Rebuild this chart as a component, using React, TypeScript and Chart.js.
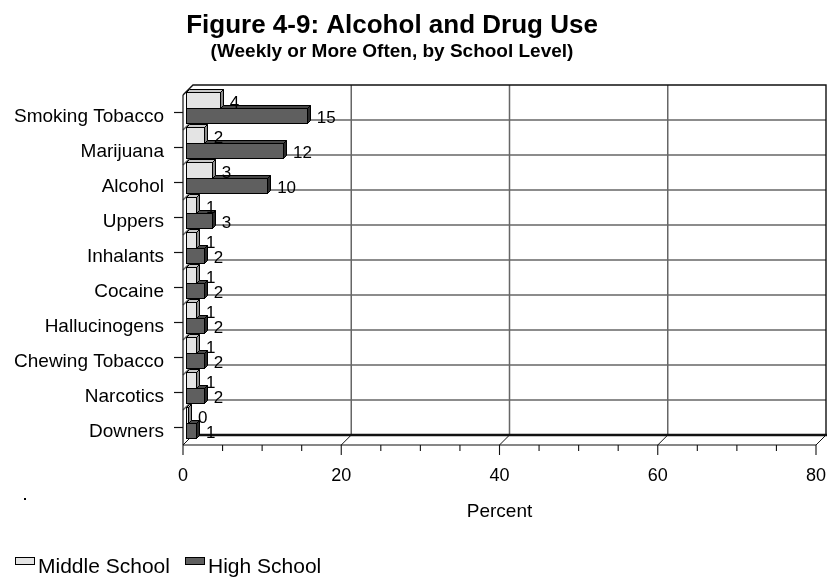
import React, { useEffect, useRef } from "react";
import { Chart, registerables } from "chart.js";

Chart.register(...registerables);

const categories = [
  "Smoking Tobacco",
  "Marijuana",
  "Alcohol",
  "Uppers",
  "Inhalants",
  "Cocaine",
  "Hallucinogens",
  "Chewing Tobacco",
  "Narcotics",
  "Downers",
];
const middleSchool = [4, 2, 3, 1, 1, 1, 1, 1, 1, 0];
const highSchool = [15, 12, 10, 3, 2, 2, 2, 2, 2, 1];
const xTicks = [0, 20, 40, 60, 80];
const seriesNames = ["Middle School", "High School"];
const titleText = "Figure 4-9: Alcohol and Drug Use";
const subtitleText = "(Weekly or More Often, by School Level)";
const axisTitle = "Percent";

const FONT = '"Liberation Sans", Arial, Helvetica, sans-serif';
const WALL = 5; // half of the 3-D wall depth (front/back offset from the bar plane)
const BAR_DEPTH = 3;

const seriesStyle = [
  { front: "#e4e4e4", top: "#c8c8c8", side: "#8c8c8c" },
  { front: "#5f5f5f", top: "#474747", side: "#2a2a2a" },
];

const wallPlugin = {
  id: "wall3d",
  beforeDatasetsDraw(chart: any) {
    const { ctx, chartArea: ca } = chart;
    const x = chart.scales.x;
    const y = chart.scales.y;
    const bx = (v: number) => x.getPixelForValue(v) + WALL;
    const fx = (v: number) => x.getPixelForValue(v) - WALL;
    const backTop = ca.top - WALL;
    const backBottom = ca.bottom - WALL;
    const frontTop = ca.top + WALL;
    const frontBottom = ca.bottom + WALL;
    const band = y.getPixelForValue(1) - y.getPixelForValue(0);
    const xmin = xTicks[0];
    const xmax = xTicks[xTicks.length - 1];

    ctx.save();
    // category gridlines on the back wall and side wall
    ctx.strokeStyle = "#666";
    ctx.lineWidth = 1.5;
    for (let i = 1; i < categories.length; i++) {
      const yb = y.getPixelForValue(i) - band / 2 - WALL;
      ctx.beginPath();
      ctx.moveTo(bx(xmin), yb);
      ctx.lineTo(bx(xmax), yb);
      ctx.stroke();
      ctx.beginPath();
      ctx.moveTo(fx(xmin), yb + 2 * WALL);
      ctx.lineTo(bx(xmin), yb);
      ctx.stroke();
    }
    // value gridlines on the back wall
    for (const v of xTicks) {
      if (v === xmin || v === xmax) continue;
      ctx.beginPath();
      ctx.moveTo(bx(v), backTop);
      ctx.lineTo(bx(v), backBottom);
      ctx.stroke();
    }
    // floor diagonals
    ctx.strokeStyle = "#111";
    ctx.lineWidth = 1;
    for (const v of xTicks) {
      ctx.beginPath();
      ctx.moveTo(fx(v), frontBottom);
      ctx.lineTo(bx(v), backBottom);
      ctx.stroke();
    }
    // back wall outline
    ctx.strokeStyle = "#111";
    ctx.lineWidth = 1.4;
    ctx.beginPath();
    ctx.moveTo(fx(xmin), frontTop);
    ctx.lineTo(bx(xmin), backTop);
    ctx.lineTo(bx(xmax), backTop);
    ctx.lineTo(bx(xmax), backBottom);
    ctx.stroke();
    ctx.lineWidth = 2.6;
    ctx.beginPath();
    ctx.moveTo(bx(xmin), backBottom);
    ctx.lineTo(bx(xmax) + 1, backBottom);
    ctx.stroke();
    // left axis
    ctx.lineWidth = 1.2;
    ctx.beginPath();
    ctx.moveTo(fx(xmin), frontTop);
    ctx.lineTo(fx(xmin), frontBottom);
    ctx.stroke();
    for (let i = 0; i < categories.length; i++) {
      const ty = y.getPixelForValue(i) + WALL;
      ctx.beginPath();
      ctx.moveTo(fx(xmin) - 9, ty);
      ctx.lineTo(fx(xmin), ty);
      ctx.stroke();
    }
    // bottom (value) axis
    ctx.lineWidth = 1.1;
    ctx.beginPath();
    ctx.moveTo(fx(xmin), frontBottom);
    ctx.lineTo(fx(xmax), frontBottom);
    ctx.stroke();
    for (let v = xmin; v <= xmax; v += 5) {
      const major = v % 20 === 0;
      ctx.beginPath();
      ctx.moveTo(fx(v), frontBottom);
      ctx.lineTo(fx(v), frontBottom + (major ? 10 : 6));
      ctx.stroke();
    }
    ctx.restore();
  },
  afterDatasetsDraw(chart: any) {
    const { ctx, chartArea: ca } = chart;
    const x = chart.scales.x;
    const y = chart.scales.y;
    const fx = (v: number) => x.getPixelForValue(v) - WALL;
    const d = BAR_DEPTH;

    ctx.save();
    ctx.lineJoin = "miter";
    // 3-D bars, drawn from the lowest to the highest so upper faces overlap correctly
    for (let i = categories.length - 1; i >= 0; i--) {
      for (let ds = chart.data.datasets.length - 1; ds >= 0; ds--) {
        const el: any = chart.getDatasetMeta(ds).data[i];
        const st = seriesStyle[ds];
        const x0 = Math.round(el.base) - 1.5;
        const x1 = Math.round(el.x) + 0.5;
        const y0 = Math.round(el.y - el.height / 2) + 0.5;
        const y1 = Math.round(el.y + el.height / 2) + 0.5;
        ctx.strokeStyle = "#000";
        ctx.lineWidth = 1;
        // top face
        ctx.beginPath();
        ctx.moveTo(x0, y0);
        ctx.lineTo(x0 + d, y0 - d);
        ctx.lineTo(x1 + d, y0 - d);
        ctx.lineTo(x1, y0);
        ctx.closePath();
        ctx.fillStyle = st.top;
        ctx.fill();
        ctx.stroke();
        // side face
        ctx.beginPath();
        ctx.moveTo(x1, y0);
        ctx.lineTo(x1 + d, y0 - d);
        ctx.lineTo(x1 + d, y1 - d);
        ctx.lineTo(x1, y1);
        ctx.closePath();
        ctx.fillStyle = st.side;
        ctx.fill();
        ctx.stroke();
        // front face
        ctx.fillStyle = st.front;
        ctx.fillRect(x0, y0, x1 - x0, y1 - y0);
        ctx.strokeRect(x0, y0, x1 - x0, y1 - y0);
      }
    }

    // value labels
    ctx.fillStyle = "#000";
    ctx.font = `17px ${FONT}`;
    ctx.textAlign = "left";
    ctx.textBaseline = "middle";
    chart.data.datasets.forEach((dset: any, ds: number) => {
      chart.getDatasetMeta(ds).data.forEach((el: any, i: number) => {
        ctx.fillText(String(dset.data[i]), el.x + 10, el.y + 3);
      });
    });

    // category labels
    ctx.font = `19px ${FONT}`;
    ctx.textAlign = "right";
    categories.forEach((c, i) => {
      ctx.fillText(c, fx(0) - 19, y.getPixelForValue(i) + WALL + 4);
    });

    // value tick labels and axis title
    ctx.font = `18px ${FONT}`;
    ctx.textAlign = "center";
    xTicks.forEach((v) => {
      ctx.fillText(String(v), fx(v), ca.bottom + WALL + 31);
    });
    ctx.font = `19px ${FONT}`;
    ctx.fillText(axisTitle, (fx(xTicks[0]) + fx(xTicks[xTicks.length - 1])) / 2, ca.bottom + WALL + 67);

    // titles
    ctx.textBaseline = "alphabetic";
    ctx.font = `bold 26px ${FONT}`;
    ctx.fillText(titleText, 392, 33);
    ctx.font = `bold 19px ${FONT}`;
    ctx.fillText(subtitleText, 392, 57);

    // legend
    ctx.textAlign = "left";
    ctx.font = `21px ${FONT}`;
    const legendX = [15, 185];
    seriesNames.forEach((name, k) => {
      ctx.fillStyle = seriesStyle[k].front;
      ctx.fillRect(legendX[k] + 0.5, 557.5, 19, 7);
      ctx.strokeStyle = "#000";
      ctx.lineWidth = 1;
      ctx.strokeRect(legendX[k] + 0.5, 557.5, 19, 7);
      ctx.fillStyle = "#000";
      ctx.fillText(name, legendX[k] + 23, 573);
    });

    // stray mark left of the axis title
    ctx.fillRect(24, 498, 2, 2);
    ctx.restore();
  },
};

export default function App() {
  const canvasRef = useRef<HTMLCanvasElement | null>(null);

  useEffect(() => {
    const canvas = canvasRef.current;
    if (!canvas) return;
    const chart = new Chart(canvas, {
      type: "bar",
      data: {
        labels: categories,
        datasets: [
          {
            label: seriesNames[0],
            data: middleSchool,
            backgroundColor: "rgba(0,0,0,0)",
            borderWidth: 0,
          },
          {
            label: seriesNames[1],
            data: highSchool,
            backgroundColor: "rgba(0,0,0,0)",
            borderWidth: 0,
          },
        ],
      },
      options: {
        indexAxis: "y",
        responsive: false,
        animation: false,
        events: [],
        layout: { padding: { left: 188, right: 11, top: 90, bottom: 138 } },
        datasets: { bar: { categoryPercentage: 0.87, barPercentage: 1 } },
        scales: {
          x: { type: "linear", min: 0, max: 80, display: false },
          y: { type: "category", display: false, offset: true },
        },
        plugins: {
          legend: { display: false },
          title: { display: false },
          tooltip: { enabled: false },
        },
      },
      plugins: [wallPlugin],
    });
    return () => chart.destroy();
  }, []);

  return (
    <div style={{ position: "fixed", left: 0, top: 0, width: 832, height: 578, background: "#fff" }}>
      <canvas ref={canvasRef} width={832} height={578} style={{ display: "block" }} />
    </div>
  );
}
